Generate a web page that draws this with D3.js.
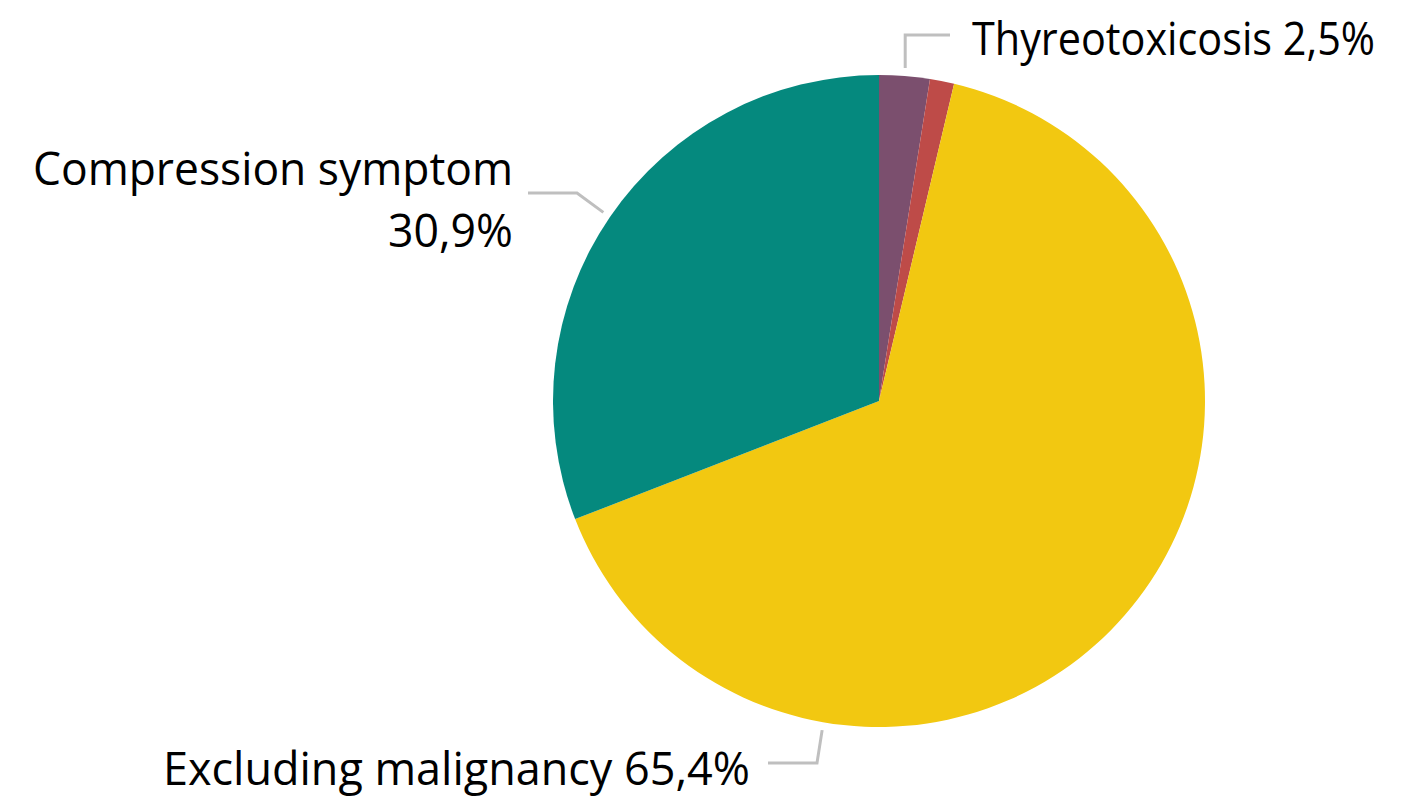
<!DOCTYPE html>
<html>
<head>
<meta charset="utf-8">
<script src="https://cdn.jsdelivr.net/npm/d3@7"></script>
<style>
  html, body { margin: 0; padding: 0; background: #fff; }
  svg { display: block; }
  text { font-family: "Open Sans", "Noto Sans", sans-serif; fill: #000; }
</style>
</head>
<body>
<svg id="chart" width="1419" height="799"></svg>
<script>
// Data
const categories = ["Thyreotoxicosis", "Other", "Excluding malignancy", "Compression symptom"];
const values = [2.5, 1.2, 65.4, 30.9];
const colors = ["#7B4F6E", "#BE4B48", "#F2C811", "#05897E"];
const labelLines = [["Thyreotoxicosis 2,5%"], [], ["Excluding malignancy 65,4%"], ["Compression symptom", "30,9%"]];

const svg = d3.select("#chart");
const cx = 879, cy = 401, radius = 326;
const fontSize = 46;

const pie = d3.pie().sort(null).value(d => d)(values);
const arc = d3.arc().innerRadius(0).outerRadius(radius);

const g = svg.append("g").attr("transform", `translate(${cx},${cy})`);

g.selectAll("path.slice")
  .data(pie)
  .join("path")
    .attr("class", "slice")
    .attr("d", arc)
    .attr("fill", (d, i) => colors[i]);

// point on circle at angle (radians, 0 = top, clockwise)
function polar(a, r) {
  return [r * Math.sin(a), -r * Math.cos(a)];
}

// label layout: anchor angle, elbow and text placement (relative to center)
// widths = target text widths (reference font is narrower than Open Sans)
const layout = [
  { angle: null, elbow: p => [p[0], -366], end: p => [71, -366], tx: 93, ty: -346, anchor: "start", widths: [403] },
  null,
  { angle: 189.8 * Math.PI / 180, elbow: p => [-62, 362], end: p => [-111, 362], tx: -129, ty: 384, anchor: "end", widths: [587] },
  { angle: null, elbow: p => [-302, -208], end: p => [-351, -208], tx: -366, ty: -216, anchor: "end", widths: [480, 125] }
];

pie.forEach((d, i) => {
  const L = layout[i];
  if (!L) return;
  const a = L.angle !== null ? L.angle : (d.startAngle + d.endAngle) / 2;
  const p = polar(a, radius + 8);
  const e = L.elbow(p);
  const q = L.end(p);
  g.append("polyline")
    .attr("points", [p, e, q].map(v => v.join(",")).join(" "))
    .attr("fill", "none")
    .attr("stroke", "#BFBFBF")
    .attr("stroke-width", 3);
  labelLines[i].forEach((s, k) => {
    g.append("text")
      .attr("x", L.tx)
      .attr("y", L.ty + k * 62)
      .attr("text-anchor", L.anchor)
      .attr("font-size", fontSize)
      .attr("textLength", L.widths[k])
      .attr("lengthAdjust", "spacingAndGlyphs")
      .text(s);
  });
});
</script>
</body>
</html>
